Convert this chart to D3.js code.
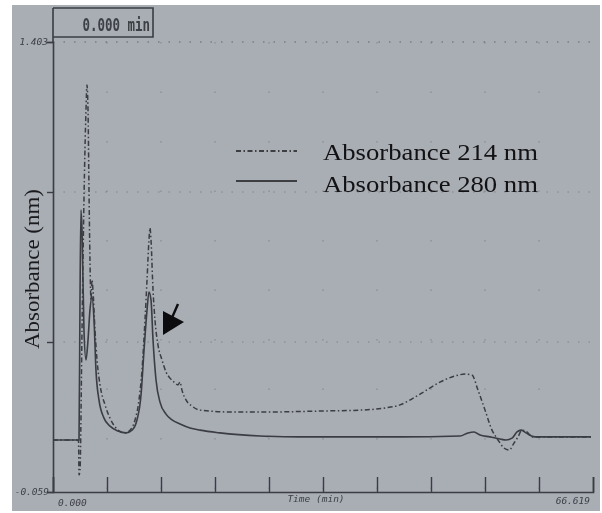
<!DOCTYPE html>
<html>
<head>
<meta charset="utf-8">
<script src="https://cdn.jsdelivr.net/npm/d3@7"></script>
<style>
  html, body { margin: 0; padding: 0; background: #ffffff; }
  svg { display: block; }
</style>
</head>
<body>
<svg id="chart" width="602" height="513"></svg>
<script>
// Retention time (min) and absorbance readings of the chromatogram
const time214 = [0, 2.96, 3.15, 3.21, 3.33, 3.58, 3.82, 4.07, 4.19, 4.32, 4.44, 4.56, 4.69, 4.81, 4.93, 5.18, 5.43, 5.80, 6.42, 7.03, 7.77, 8.39, 8.88, 9.50, 10.12, 10.61, 10.98, 11.35, 11.60, 11.84, 11.97, 12.09, 12.34, 12.58, 12.95, 13.45, 13.94, 14.43, 14.93, 15.42, 15.67, 15.91, 16.41, 17.15, 18.14, 21.84, 26.77, 32.94, 37.87, 40.96, 42.81, 45.28, 47.74, 49.59, 50.83, 51.69, 52.43, 53.30, 54.16, 54.90, 55.64, 56.26, 56.87, 57.37, 57.86, 58.48, 59.09, 62.55, 66.37];
const abs214 = [0.110, 0.110, 0.107, -0.004, 0.012, 0.467, 0.890, 1.182, 1.263, 1.182, 0.922, 0.695, 0.565, 0.630, 0.597, 0.467, 0.370, 0.289, 0.224, 0.181, 0.149, 0.136, 0.133, 0.142, 0.175, 0.240, 0.337, 0.500, 0.630, 0.760, 0.799, 0.760, 0.597, 0.500, 0.419, 0.370, 0.331, 0.311, 0.298, 0.289, 0.298, 0.272, 0.240, 0.220, 0.207, 0.201, 0.201, 0.204, 0.207, 0.214, 0.224, 0.259, 0.298, 0.318, 0.324, 0.321, 0.272, 0.207, 0.142, 0.110, 0.084, 0.077, 0.100, 0.120, 0.142, 0.136, 0.120, 0.120, 0.120];

const time280 = [0, 3.08, 3.21, 3.33, 3.45, 3.58, 3.82, 4.07, 4.32, 4.56, 4.81, 5.06, 5.30, 5.67, 6.29, 7.03, 8.02, 9.01, 9.75, 10.36, 10.86, 11.23, 11.60, 11.84, 12.09, 12.34, 12.71, 13.20, 13.94, 14.68, 15.67, 16.90, 18.14, 20.60, 25.54, 30.47, 42.81, 50.21, 51.20, 51.94, 52.68, 53.91, 55.15, 55.89, 56.63, 57.24, 57.74, 58.35, 59.46, 66.37];
const abs280 = [0.110, 0.110, 0.110, 0.565, 0.857, 0.792, 0.467, 0.370, 0.435, 0.532, 0.575, 0.500, 0.337, 0.240, 0.181, 0.155, 0.139, 0.133, 0.142, 0.175, 0.256, 0.402, 0.532, 0.591, 0.565, 0.435, 0.305, 0.233, 0.194, 0.175, 0.162, 0.149, 0.142, 0.133, 0.123, 0.120, 0.120, 0.123, 0.133, 0.136, 0.126, 0.120, 0.113, 0.110, 0.116, 0.136, 0.142, 0.133, 0.120, 0.120];

const timeRange = [0, 66.619];
const absRange = [-0.059, 1.403];
const xTickLabels = ["0.000", "66.619"];
const yTickLabels = ["-0.059", "1.403"];
const seriesNames = ["Absorbance 214 nm", "Absorbance 280 nm"];
const cursorLabel = "0.000 min";
const xAxisTitle = "Time (min)";
const yAxisTitle = "Absorbance (nm)";
// annotated shoulder on the second peak
const arrowPoint = { time: 13.57, abs: 0.451 };

const svg = d3.select("#chart");
const ink = "#3a3d43";

// paper background
svg.append("rect").attr("x", 12).attr("y", 5).attr("width", 588).attr("height", 506)
  .attr("fill", "#a9adb4");

const defs = svg.append("defs");
defs.append("filter").attr("id", "soft")
  .append("feGaussianBlur").attr("stdDeviation", 0.45);

const x = d3.scaleLinear().domain(timeRange).range([53, 593]);
const y = d3.scaleLinear().domain(absRange).range([492, 42]);

const xTicks = d3.range(0, 11).map(i => timeRange[0] + i * (timeRange[1] - timeRange[0]) / 10);
const yTicks = d3.range(0, 4).map(i => absRange[0] + i * (absRange[1] - absRange[0]) / 3);

const g = svg.append("g").attr("filter", "url(#soft)");

// dotted grid
g.append("g").selectAll("line").data(yTicks.slice(1)).join("line")
  .attr("x1", x(timeRange[0])).attr("x2", x(timeRange[1]))
  .attr("y1", d => y(d)).attr("y2", d => y(d))
  .attr("stroke", "#50545b").attr("stroke-width", 1)
  .attr("stroke-dasharray", "1.5,9")
  .attr("opacity", (d, i) => i === 2 ? 0.8 : 0.45);
g.append("g").selectAll("line").data(xTicks.slice(1, -1)).join("line")
  .attr("x1", d => x(d)).attr("x2", d => x(d))
  .attr("y1", y(absRange[1])).attr("y2", y(absRange[0]))
  .attr("stroke", "#50545b").attr("stroke-width", 1)
  .attr("stroke-dasharray", "1.5,48")
  .attr("opacity", 0.45);

// axes
const xAxis = d3.axisBottom(x).tickValues(xTicks).tickSize(-15).tickFormat("");
const yAxis = d3.axisLeft(y).tickValues(yTicks).tickSize(6).tickFormat("");
const gx = g.append("g").attr("transform", `translate(0,${y(absRange[0])})`).call(xAxis);
const gy = g.append("g").attr("transform", `translate(${x(timeRange[0])},0)`).call(yAxis);
[gx, gy].forEach(a => {
  a.select(".domain").attr("stroke", ink).attr("stroke-width", 1.6);
  a.selectAll(".tick line").attr("stroke", ink).attr("stroke-width", 1.4);
});
// axis line extends up to the cursor box
g.append("line").attr("x1", x(0)).attr("x2", x(0)).attr("y1", 8).attr("y2", y(absRange[1]))
  .attr("stroke", ink).attr("stroke-width", 1.6);

// cursor readout box
g.append("path").attr("d", `M${x(0)},8 H153 V37 H${x(0)}`)
  .attr("fill", "none").attr("stroke", ink).attr("stroke-width", 1.6);
g.append("text").attr("x", 150).attr("y", 31).attr("text-anchor", "end")
  .attr("font-family", "DejaVu Sans Mono").attr("font-size", 16).attr("font-weight", "bold")
  .attr("fill", "#3c3f45").attr("transform", "translate(150,31) scale(0.78,1.05) translate(-150,-31)")
  .text(cursorLabel);

// tick labels
const small = { "font-family": "DejaVu Sans Mono", "font-size": 9.5, "fill": "#3c3f45", "font-style": "italic" };
function applyAttrs(sel, attrs) { Object.entries(attrs).forEach(([k, v]) => sel.attr(k, v)); return sel; }
applyAttrs(g.append("text"), small).attr("x", 48).attr("y", y(absRange[1]) + 3)
  .attr("text-anchor", "end").text(yTickLabels[1]);
applyAttrs(g.append("text"), small).attr("x", 49).attr("y", y(absRange[0]) + 3)
  .attr("text-anchor", "end").text(yTickLabels[0]);
applyAttrs(g.append("text"), small).attr("x", x(0) + 5).attr("y", 506).text(xTickLabels[0]);
applyAttrs(g.append("text"), small).attr("x", x(timeRange[1]) - 3).attr("y", 504)
  .attr("text-anchor", "end").text(xTickLabels[1]);
applyAttrs(g.append("text"), small).attr("x", 316).attr("y", 502)
  .attr("text-anchor", "middle").text(xAxisTitle);

// traces
const line = d3.line().x(d => x(d[0])).y(d => y(d[1])).curve(d3.curveMonotoneX);
const pts214 = time214.map((t, i) => [t, abs214[i]]);
const pts280 = time280.map((t, i) => [t, abs280[i]]);

g.append("path").datum(pts280).attr("d", line)
  .attr("fill", "none").attr("stroke", ink).attr("stroke-width", 1.6);
g.append("path").datum(pts214).attr("d", line)
  .attr("fill", "none").attr("stroke", ink).attr("stroke-width", 1.5)
  .attr("stroke-dasharray", "5,2.5,1.5,2.5");

// arrow marking the shoulder
const ax = x(arrowPoint.time), ay = y(arrowPoint.abs);
svg.append("path")
  .attr("d", `M${ax},${ay} L${ax},${ay - 24} L${ax + 21},${ay - 13} Z`)
  .attr("fill", "#0c0c0e");
svg.append("line")
  .attr("x1", ax + 8).attr("y1", ay - 15).attr("x2", ax + 15).attr("y2", ay - 31)
  .attr("stroke", "#0c0c0e").attr("stroke-width", 2.4);

// legend
const legend = svg.append("g");
const legendRows = [
  { name: seriesNames[0], dash: "5,2.5,1.5,2.5", y: 151, ty: 160 },
  { name: seriesNames[1], dash: null, y: 181, ty: 192 }
];
legendRows.forEach(r => {
  legend.append("line").attr("x1", 236).attr("x2", 297).attr("y1", r.y).attr("y2", r.y)
    .attr("stroke", "#1a1b1e").attr("stroke-width", 1.6)
    .attr("stroke-dasharray", r.dash);
  legend.append("text").attr("x", 323).attr("y", r.ty)
    .attr("font-family", "Liberation Serif").attr("font-size", 23).attr("fill", "#121214")
    .attr("textLength", 215).attr("lengthAdjust", "spacingAndGlyphs")
    .text(r.name);
});

// y axis title
svg.append("text")
  .attr("transform", "translate(39,269) rotate(-90)")
  .attr("text-anchor", "middle")
  .attr("font-family", "Liberation Serif").attr("font-size", 20).attr("fill", "#1a1b1e")
  .attr("textLength", 160).attr("lengthAdjust", "spacingAndGlyphs")
  .text(yAxisTitle);
</script>
</body>
</html>
